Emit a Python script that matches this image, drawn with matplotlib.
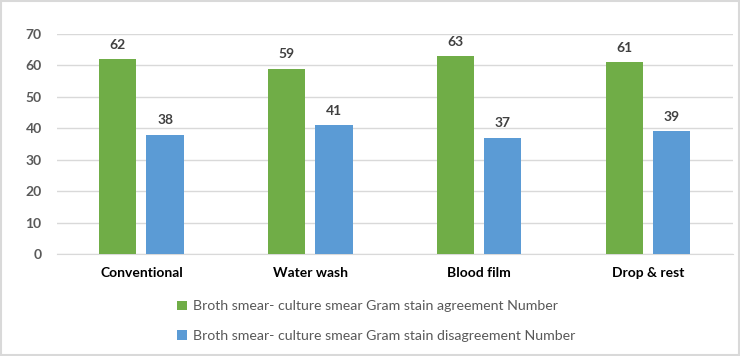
import matplotlib.pyplot as plt
import numpy as np
from matplotlib.patches import Rectangle

# Data
categories = ['Conventional', 'Water wash', 'Blood film', 'Drop & rest']
agree = [62, 59, 63, 61]
disagree = [38, 41, 37, 39]
series_names = ['Broth smear- culture smear Gram stain agreement Number',
                'Broth smear- culture smear Gram stain disagreement Number']
green = '#70AD47'
blue = '#5B9BD5'

plt.rcParams['font.family'] = ['Lato', 'DejaVu Sans']

fig = plt.figure(figsize=(7.4, 3.56), dpi=100)
ax = fig.add_axes([0.077, 0.2865, 0.913, 0.618])

x = np.arange(len(categories))
w = 0.22
off = 0.14
b1 = ax.bar(x - off, agree, w, color=green, label=series_names[0], zorder=3)
b2 = ax.bar(x + off, disagree, w, color=blue, label=series_names[1], zorder=3)

for bars in (b1, b2):
    for r in bars:
        ax.annotate(f'{r.get_height():.0f}', (r.get_x() + r.get_width() / 2, r.get_height()),
                    xytext=(0, 6), textcoords='offset points', ha='center', va='bottom',
                    fontsize=10, fontweight='bold', color='#404040')

ax.set_ylim(0, 70)
ax.set_xlim(-0.5, len(categories) - 0.5)
ax.set_yticks(range(0, 71, 10))
ax.yaxis.grid(True, color='#D9D9D9', linewidth=1, zorder=0)
for s in ['top', 'right', 'left']:
    ax.spines[s].set_visible(False)
ax.spines['bottom'].set_color('#D9D9D9')
ax.tick_params(axis='both', length=0)
ax.tick_params(axis='y', pad=11, labelsize=10, labelcolor='#595959')
ax.tick_params(axis='x', pad=9, labelsize=10, labelcolor='black')
ax.set_xticks(x)
ax.set_xticklabels(categories, fontweight='bold')
for t in ax.get_yticklabels():
    t.set_fontweight('bold')

fig.legend(loc='upper left', bbox_to_anchor=(0.232, 0.172), ncol=1, frameon=False,
           fontsize=10.2, labelcolor='#595959', handlelength=0.65, handleheight=0.65,
           handletextpad=0.45, labelspacing=1.25, borderaxespad=0)

fig.patches.append(Rectangle((0.002, 0.003), 0.996, 0.994, transform=fig.transFigure,
                             fill=False, edgecolor='#D9D9D9', linewidth=1.5))

fig.savefig('out.png', dpi=100)
